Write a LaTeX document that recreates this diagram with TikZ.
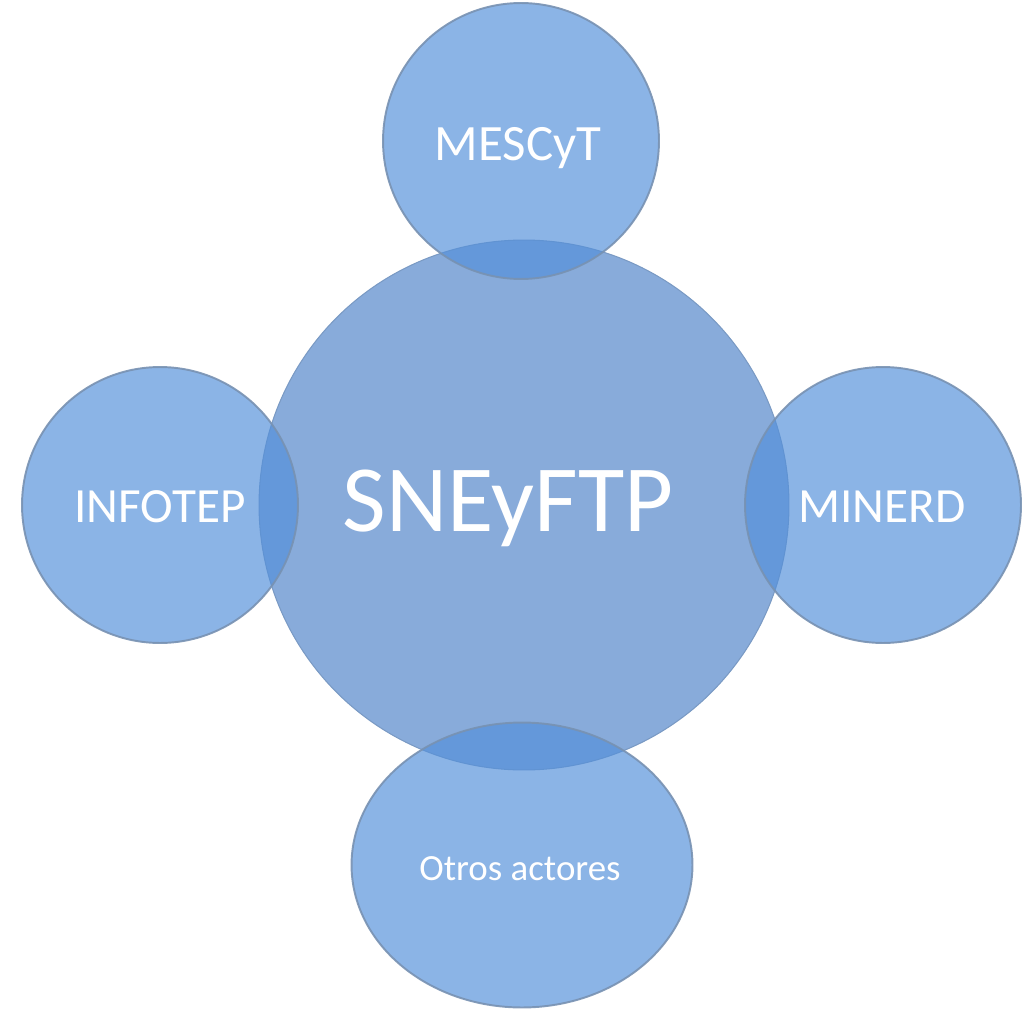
\documentclass[tikz,border=0pt]{standalone}
\usepackage{fontspec}
\setmainfont{Carlito}
\usetikzlibrary{shapes,positioning}
\usepackage{xcolor}
\definecolor{hubblue}{RGB}{136,171,218}
\definecolor{actorblue}{RGB}{84,144,218}
\definecolor{rimgray}{RGB}{120,146,178}

\begin{document}
\begin{tikzpicture}[x=0.02cm, y=-0.02cm]
    \tikzstyle{hub} = [circle, fill=hubblue, draw=hubblue!90!black, line width=0.6pt, minimum size=10.6cm, inner sep=0pt]
    \tikzstyle{actor} = [circle, fill=actorblue, fill opacity=0.68, draw=rimgray, draw opacity=0.9, line width=1.1pt, minimum size=5.52cm, inner sep=0pt]
    \tikzstyle{tag} = [text=white, anchor=base, inner sep=0pt]
    \useasboundingbox (0,0) rectangle (1030,1010);

    % Sistema central
    \node[hub] (sne) at (524,505) {};

    % Actores alrededor
    \node[actor] (mescyt) at (521,141) {};
    \node[actor] (infotep) at (160,505) {};
    \node[actor] (minerd) at (883,505) {};
    \node[actor, ellipse, minimum width=6.82cm, minimum height=5.7cm] (otros) at (522,865) {};

    % Textos
    \node[tag, font=\fontsize{54}{60}\selectfont] (snetxt) at (508,531) {SNEyFTP};
    \node[tag, font=\fontsize{29}{34}\selectfont] (mescyttxt) at (518,161) {MESCyT};
    \node[tag, font=\fontsize{28}{34}\selectfont] (infoteptxt) at (160,522) {INFOTEP};
    \node[tag, font=\fontsize{28}{34}\selectfont] (minerdtxt) at (882,522) {MINERD};
    \node[tag, font=\fontsize{21}{26}\selectfont] (otrostxt) at (520,880) {Otros actores};
\end{tikzpicture}
\end{document}
